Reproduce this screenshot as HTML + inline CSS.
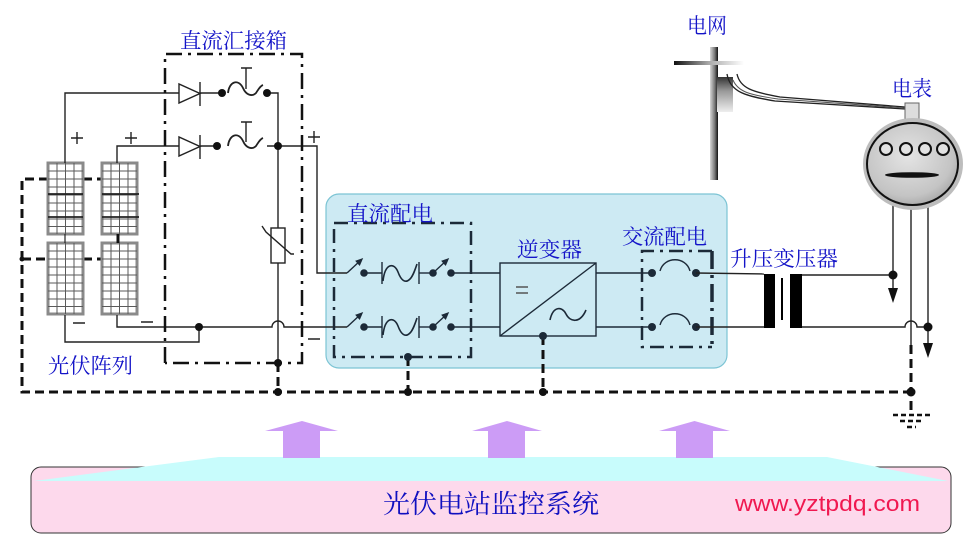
<!DOCTYPE html>
<html><head><meta charset="utf-8"><style>
html,body{margin:0;padding:0;background:#fff;}
svg{display:block}
.l{font-family:"Liberation Serif","Noto Serif CJK SC",serif;font-size:21px;fill:#1414c8;}
</style></head><body>
<svg width="968" height="536" viewBox="0 0 968 536" xmlns="http://www.w3.org/2000/svg">
<defs>
 <marker id="ah" markerWidth="8" markerHeight="8" refX="5" refY="4" orient="auto" markerUnits="userSpaceOnUse"><path d="M0,0.5 L8,4 L0,7.5 Z" fill="#1c2a38"/></marker>
 <g id="pan">
  <rect x="0" y="0" width="35" height="71" fill="#fff" stroke="#8a8a8a" stroke-width="3"/>
  <g stroke="#5a5a5a" stroke-width="1">
   <line x1="9" y1="0" x2="9" y2="71"/><line x1="17.5" y1="0" x2="17.5" y2="71"/><line x1="26" y1="0" x2="26" y2="71"/>
   <line x1="0" y1="8" x2="35" y2="8"/><line x1="0" y1="16" x2="35" y2="16"/><line x1="0" y1="24" x2="35" y2="24"/>
   <line x1="0" y1="32" x2="35" y2="32"/><line x1="0" y1="40" x2="35" y2="40"/><line x1="0" y1="48" x2="35" y2="48"/>
   <line x1="0" y1="56" x2="35" y2="56"/><line x1="0" y1="63.5" x2="35" y2="63.5"/>
  </g>
 </g>
 <linearGradient id="pole" x1="0" x2="1" y1="0" y2="0"><stop offset="0" stop-color="#d8d8d8"/><stop offset="0.6" stop-color="#777"/><stop offset="1" stop-color="#111"/></linearGradient>
 <linearGradient id="bar" x1="0" x2="1" y1="0" y2="0"><stop offset="0" stop-color="#111"/><stop offset="0.5" stop-color="#aaa"/><stop offset="1" stop-color="#fff"/></linearGradient>
 <linearGradient id="blk" x1="0" x2="0" y1="0" y2="1"><stop offset="0" stop-color="#333"/><stop offset="0.4" stop-color="#999"/><stop offset="1" stop-color="#eee"/></linearGradient>
 <radialGradient id="mtr" cx="0.45" cy="0.4" r="0.7"><stop offset="0" stop-color="#e4e4e4"/><stop offset="0.7" stop-color="#c4c4c4"/><stop offset="1" stop-color="#999"/></radialGradient>
</defs>

<!-- blue DC/AC panel -->
<rect x="326" y="194" width="401" height="174" rx="13" fill="#cdeaf3" stroke="#7cc4d4" stroke-width="1.2"/>

<!-- ground bus dashed -->
<g stroke="#111" stroke-width="3" stroke-dasharray="9,5" fill="none">
 <path d="M48,179 L22,179 L22,392 L911,392"/>
 <line x1="83" y1="179" x2="102" y2="179"/>
 <line x1="22" y1="259" x2="48" y2="259"/>
 <line x1="83" y1="259" x2="102" y2="259"/>
 <line x1="278" y1="363" x2="278" y2="392"/>
 <line x1="408" y1="357" x2="408" y2="392"/>
 <line x1="543" y1="336" x2="543" y2="392"/>
 <line x1="911" y1="345" x2="911" y2="412"/>
</g>
<g stroke="#111" stroke-width="2.5" stroke-dasharray="5,3">
 <line x1="893" y1="415" x2="930" y2="415"/>
 <line x1="900" y1="421" x2="922" y2="421"/>
 <line x1="907" y1="427" x2="916" y2="427"/>
</g>

<!-- solar panels -->
<use href="#pan" x="48" y="163"/>
<use href="#pan" x="102" y="163"/>
<use href="#pan" x="48" y="243"/>
<use href="#pan" x="102" y="243"/>
<g stroke="#222" stroke-width="1.8">
 <line x1="48" y1="194" x2="83" y2="194"/><line x1="48" y1="217" x2="83" y2="217"/>
 <line x1="102" y1="194" x2="139" y2="194"/><line x1="102" y1="217" x2="139" y2="217"/>
</g>
<line x1="65" y1="234" x2="65" y2="243" stroke="#222" stroke-width="1.2"/>
<line x1="118" y1="234" x2="118" y2="243" stroke="#111" stroke-width="3"/>

<!-- combiner box wiring -->
<g stroke="#222" stroke-width="1.4" fill="none">
 <path d="M65,163 L65,93 L179,93"/>
 <path d="M117,163 L117,146 L179,146"/>
 <line x1="200" y1="93" x2="222" y2="93"/>
 <line x1="200" y1="146" x2="217" y2="146"/>
 <path d="M267,93 L278,93 L278,228"/>
 <path d="M278,263 L278,363"/>
 <path d="M267,146 L317,146 L317,273 L347,273"/>
 <path d="M65,315 L65,342 L199,342 L199,327"/>
 <path d="M117,315 L117,327 L272,327 A6,6 0 0 1 284,327 L347,327"/>
 <!-- diodes -->
 <polygon points="179,84 179,103 200,93.5" fill="#fff"/>
 <line x1="200" y1="82" x2="200" y2="106"/>
 <polygon points="179,137 179,156 200,146.5" fill="#fff"/>
 <line x1="200" y1="135" x2="200" y2="159"/>
 <!-- fuses -->
 <path d="M228,93 C229,82 238,78 243,88 C246,95 252,97 256,93 C258,90 260,86 263,85" stroke-width="1.8"/>
 <path d="M246,68 L246,89 M241,68 L252,68"/>
 <path d="M228,146 C229,135 238,131 243,141 C246,148 252,150 256,146 C258,143 260,139 263,138" stroke-width="1.8"/>
 <path d="M246,122 L246,142 M241,122 L252,122"/>
 <!-- varistor -->
 <rect x="271" y="228" width="14" height="35" fill="#fff"/>
 <path d="M262,226 L266,232 L291,254 L294,254"/>
 <!-- plus / minus -->
 <path d="M71,138 L83,138 M77,132 L77,144 M125,138 L137,138 M131,132 L131,144 M308,137 L320,137 M314,131 L314,143"/>
 <path d="M73,323 L85,323 M141,322 L153,322 M308,339 L320,339"/>
</g>
<g fill="#111">
 <circle cx="222" cy="93" r="4"/><circle cx="267" cy="93" r="4"/>
 <circle cx="217" cy="146" r="4"/><circle cx="278" cy="146" r="4"/>
 <circle cx="199" cy="327" r="4"/>
 <circle cx="278" cy="363" r="4"/><circle cx="278" cy="392" r="4"/>
 <circle cx="22" cy="259" r="2.5"/>
</g>
<!-- combiner dash-dot box -->
<path d="M165,363 L165,54 L302,54 L302,363 L165,363" fill="none" stroke="#111" stroke-width="2.5" stroke-dasharray="16,6,3,6"/>

<!-- DC distribution -->
<g stroke="#1c2a38" stroke-width="1.4" fill="none">
 <line x1="347" y1="273" x2="361" y2="260" marker-end="url(#ah)"/>
 <line x1="364" y1="273" x2="382" y2="273"/>
 <path d="M382,262 L382,284 M419,262 L419,284"/>
 <path d="M383,281 C385,263 394,262 398,272 C401,280 405,284 410,279 C413,276 415,270 417,264" stroke-width="1.6"/>
 <line x1="419" y1="273" x2="433" y2="273"/>
 <line x1="433" y1="273" x2="447" y2="260" marker-end="url(#ah)"/>
 <line x1="451" y1="273" x2="500" y2="273"/>

 <line x1="347" y1="327" x2="361" y2="314" marker-end="url(#ah)"/>
 <line x1="364" y1="327" x2="382" y2="327"/>
 <path d="M382,316 L382,338 M419,316 L419,338"/>
 <path d="M383,335 C385,317 394,316 398,326 C401,334 405,338 410,333 C413,330 415,324 417,318" stroke-width="1.6"/>
 <line x1="419" y1="327" x2="433" y2="327"/>
 <line x1="433" y1="327" x2="447" y2="314" marker-end="url(#ah)"/>
 <line x1="451" y1="327" x2="500" y2="327"/>

 <!-- inverter -->
 <rect x="500" y="263" width="96" height="73"/>
 <line x1="500" y1="336" x2="596" y2="263"/>
 <path d="M516,287 L528,287 M516,293 L528,293" stroke="#555"/>
 <path d="M550,320 C553,306 562,306 566,314 C570,322 580,324 586,310" stroke-width="1.6"/>
 <line x1="596" y1="273" x2="652" y2="273"/>
 <line x1="596" y1="327" x2="652" y2="327"/>
 <!-- AC breakers -->
 <path d="M660,271 C664,256 686,256 690,271"/>
 <path d="M660,325 C664,310 686,310 690,325"/>
</g>
<g fill="#1c2a38">
 <circle cx="364" cy="273" r="3.8"/><circle cx="433" cy="273" r="3.8"/><circle cx="451" cy="273" r="3.8"/>
 <circle cx="364" cy="327" r="3.8"/><circle cx="433" cy="327" r="3.8"/><circle cx="451" cy="327" r="3.8"/>
 <circle cx="408" cy="357" r="4"/><circle cx="543" cy="336" r="4"/>
 <circle cx="652" cy="273" r="4"/><circle cx="696" cy="273" r="4"/>
 <circle cx="652" cy="327" r="4"/><circle cx="696" cy="327" r="4"/>
</g>
<g fill="#111"><circle cx="408" cy="392" r="4"/><circle cx="543" cy="392" r="4"/></g>
<rect x="334" y="223" width="137" height="134" fill="none" stroke="#1c2a38" stroke-width="2.5" stroke-dasharray="14,6,3,6"/>
<path d="M712,251 L642,251 L642,347 L712,347" fill="none" stroke="#1c2a38" stroke-width="2.5" stroke-dasharray="14,6,3,6"/>
<path d="M712,251 L712,347" fill="none" stroke="#1c2a38" stroke-width="3.5" stroke-dasharray="18,6,3,6"/>

<!-- transformer & outputs -->
<g stroke="#222" stroke-width="1.4" fill="none">
 <line x1="696" y1="273" x2="764" y2="274"/>
 <line x1="696" y1="327" x2="764" y2="327"/>
 <line x1="802" y1="275" x2="893" y2="275"/>
 <path d="M802,327 L905,327 A6,6 0 0 1 917,327 L928,327"/>
 <line x1="893" y1="190" x2="893" y2="292"/>
 <line x1="911" y1="190" x2="911" y2="345"/>
 <line x1="928" y1="190" x2="928" y2="347"/>
</g>
<rect x="764" y="274" width="11" height="54" fill="#000"/>
<rect x="790" y="274" width="12" height="54" fill="#000"/>
<line x1="782" y1="278" x2="782" y2="320" stroke="#000" stroke-width="2"/>
<polygon points="888,288 898,288 893,303" fill="#111"/>
<polygon points="923,343 933,343 928,358" fill="#111"/>
<g fill="#111"><circle cx="893" cy="275" r="4.5"/><circle cx="928" cy="327" r="4.5"/><circle cx="911" cy="392" r="4.5"/></g>

<!-- grid pole -->
<rect x="710" y="47" width="8" height="133" fill="url(#pole)"/>
<rect x="674" y="61" width="70" height="4" fill="url(#bar)"/>
<rect x="717" y="77" width="16" height="35" fill="url(#blk)"/>
<path d="M727,74 C730,92 745,96 775,101 L905,109" fill="none" stroke="#222" stroke-width="1.3"/>
<path d="M737,74 C740,88 752,92 780,97 L905,107" fill="none" stroke="#222" stroke-width="1.3"/>
<path d="M733,80 C738,92 750,95 778,99 L905,108" fill="none" stroke="#555" stroke-width="1"/>
<rect x="905" y="103" width="14" height="16" fill="#ddd" stroke="#666" stroke-width="1"/>

<!-- meter -->
<ellipse cx="913" cy="164" rx="50" ry="46" fill="#bdbdbd"/>
<ellipse cx="912.5" cy="164" rx="45.5" ry="41" fill="url(#mtr)" stroke="#111" stroke-width="2"/>
<g fill="#e2e2e2" stroke="#111" stroke-width="2">
 <circle cx="886" cy="149" r="6"/><circle cx="906" cy="149" r="6"/><circle cx="925" cy="149" r="6"/><circle cx="943" cy="149" r="6"/>
</g>
<ellipse cx="912" cy="175" rx="27" ry="2.8" fill="#111"/>

<!-- labels -->
<text class="l" x="180" y="48" textLength="107" lengthAdjust="spacingAndGlyphs">直流汇接箱</text>
<text class="l" x="48" y="373" textLength="85" lengthAdjust="spacingAndGlyphs">光伏阵列</text>
<text class="l" x="347" y="221" textLength="86" lengthAdjust="spacingAndGlyphs">直流配电</text>
<text class="l" x="517" y="257" textLength="65" lengthAdjust="spacingAndGlyphs">逆变器</text>
<text class="l" x="622" y="244" textLength="85" lengthAdjust="spacingAndGlyphs">交流配电</text>
<text class="l" x="730" y="266" textLength="108" lengthAdjust="spacingAndGlyphs">升压变压器</text>
<text class="l" x="687" y="33" textLength="40" lengthAdjust="spacingAndGlyphs">电网</text>
<text class="l" x="892" y="96" textLength="40" lengthAdjust="spacingAndGlyphs">电表</text>

<!-- monitoring system -->
<rect x="31" y="467" width="920" height="66" rx="10" fill="#fdd9ec" stroke="#333" stroke-width="1"/>
<polygon points="219,457 827,457 948,481 34,481" fill="#c8fcfc"/>
<g fill="#cc9cf6">
 <polygon points="265,431 302,421 338,431"/><rect x="283" y="430" width="37" height="28"/>
 <polygon points="472,431 507,421 542,431"/><rect x="488" y="430" width="37" height="28"/>
 <polygon points="659,431 694.5,421 730,431"/><rect x="676" y="430" width="37" height="28"/>
</g>
<text x="383" y="513" textLength="216" lengthAdjust="spacingAndGlyphs" style="font-family:'Liberation Serif','Noto Serif CJK SC',serif;font-size:26px;fill:#1010c0;">光伏电站监控系统</text>
<text x="735" y="511" textLength="185" lengthAdjust="spacingAndGlyphs" style="font-family:'Liberation Sans',sans-serif;font-size:22px;fill:#f01850;">www.yztpdq.com</text>
</svg>
</body></html>
